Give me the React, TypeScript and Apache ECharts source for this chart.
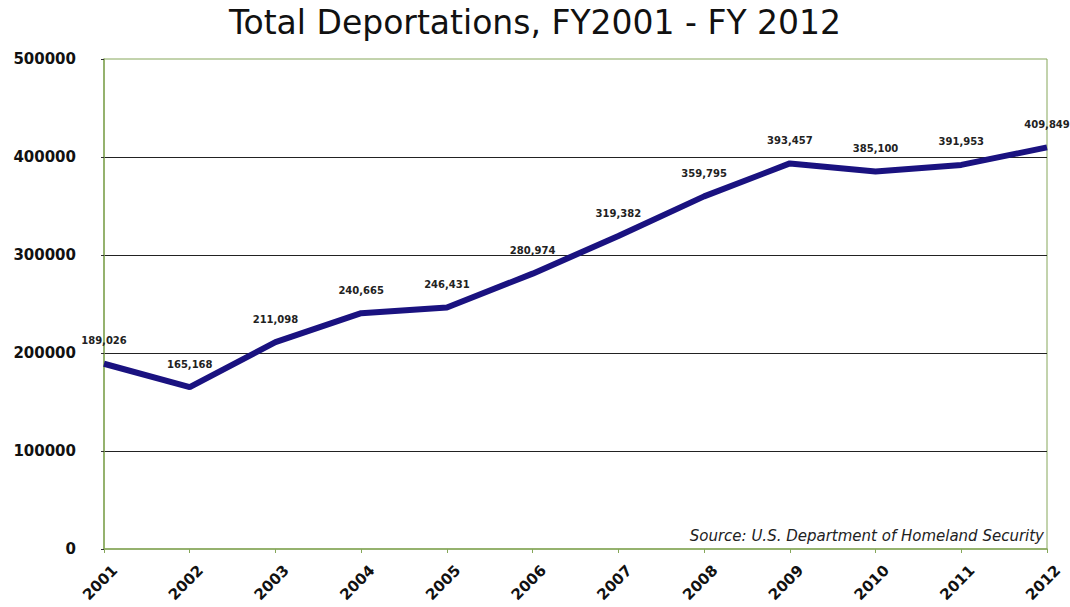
import React, { useEffect, useRef } from "react";
import * as echarts from "echarts";

const years = ["2001", "2002", "2003", "2004", "2005", "2006", "2007", "2008", "2009", "2010", "2011", "2012"];
const deportations = [189026, 165168, 211098, 240665, 246431, 280974, 319382, 359795, 393457, 385100, 391953, 409849];
const yTicks = { min: 0, max: 500000, interval: 100000 };

export default function App() {
  const ref = useRef<HTMLDivElement>(null);
  useEffect(() => {
    document.body.style.margin = "0";
    const chart = echarts.init(ref.current!, undefined, { renderer: "svg" });
    const green = "#86a75a";
    chart.setOption({
      animation: false,
      backgroundColor: "#ffffff",
      title: {
        text: "Total Deportations, FY2001 - FY 2012",
        left: "center",
        top: 1,
        textStyle: { fontFamily: "DejaVu Sans", fontSize: 33, fontWeight: "normal", color: "#111" },
      },
      grid: {
        left: 104,
        right: 23,
        top: 59,
        bottom: 58,
        show: true,
        borderColor: green,
        borderWidth: 1,
        containLabel: false,
        outerBoundsMode: "none",
      },
      xAxis: {
        type: "category",
        data: years,
        boundaryGap: false,
        axisLine: { lineStyle: { color: green, width: 1.5 } },
        axisTick: { show: true, alignWithLabel: true, length: 4, lineStyle: { color: green } },
        axisLabel: {
          rotate: 45,
          fontFamily: "DejaVu Sans",
          fontWeight: "bold",
          fontSize: 15,
          color: "#111",
          margin: 8,
          verticalAlign: "top",
          padding: [8, 0, 0, 0],
        },
        splitLine: { show: false },
      },
      yAxis: {
        type: "value",
        min: yTicks.min,
        max: yTicks.max,
        interval: yTicks.interval,
        axisLine: { show: true, lineStyle: { color: green, width: 1.5 } },
        axisTick: { show: true, length: 3, lineStyle: { color: "#333" } },
        axisLabel: {
          fontFamily: "DejaVu Sans",
          fontWeight: "bold",
          fontSize: 15,
          color: "#111",
          margin: 28,
          formatter: (v: number) => String(v),
        },
        splitLine: { show: true, showMinLine: false, showMaxLine: false, lineStyle: { color: "#222", width: 1 } },
      },
      graphic: [
        {
          type: "text",
          right: 26,
          top: 528,
          style: {
            text: "Source: U.S. Department of Homeland Security",
            fontFamily: "DejaVu Sans",
            fontStyle: "italic",
            fontSize: 15,
            fill: "#222",
          },
        },
      ],
      series: [
        {
          type: "line",
          data: deportations,
          symbol: "circle",
          symbolSize: 0,
          showSymbol: true,
          lineStyle: { color: "#1a1280", width: 6 },
          itemStyle: { color: "#1a1280" },
          label: {
            show: true,
            position: "top",
            distance: 18,
            fontFamily: "DejaVu Sans",
            fontWeight: "bold",
            fontSize: 10,
            color: "#222",
            formatter: (p: any) => Number(p.value).toLocaleString("en-US"),
          },
        },
      ],
    });
    return () => chart.dispose();
  }, []);
  return <div ref={ref} style={{ width: 1070, height: 607 }} />;
}
